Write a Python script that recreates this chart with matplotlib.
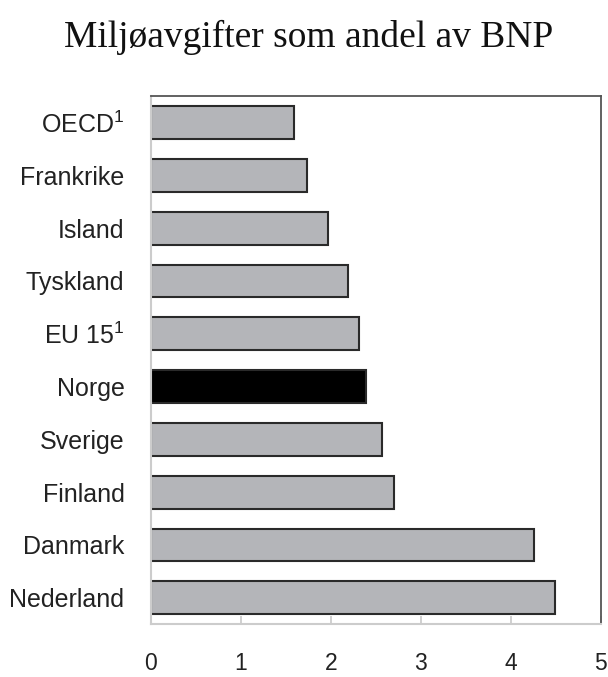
import numpy as np
from matplotlib import pyplot as plt

# data (top to bottom)
countries = [r'OECD$^{\mathregular{1}}$', 'Frankrike', 'Island', 'Tyskland',
             r'EU 15$^{\mathregular{1}}$', 'Norge', 'Sverige', 'Finland',
             'Danmark', 'Nederland']
values = [1.59, 1.74, 1.97, 2.19, 2.31, 2.39, 2.57, 2.70, 4.26, 4.49]
xticks = [0, 1, 2, 3, 4, 5]

plt.rcParams['font.family'] = ['Liberation Sans', 'DejaVu Sans']
plt.rcParams['mathtext.fontset'] = 'custom'
plt.rcParams['mathtext.rm'] = 'Liberation Sans'

fig = plt.figure(figsize=(6.08, 6.77), dpi=100)
ax = fig.add_axes([0.248, 0.078, 0.74, 0.78])

colors = ['#000000' if c == 'Norge' else '#b4b5b9' for c in countries]
y = np.arange(len(countries))
ax.barh(y, values, height=0.62, color=colors, edgecolor='#2a2a2a', linewidth=1.5)

ax.set_xlim(0, 5)
ax.set_ylim(len(countries) - 0.5, -0.5)
ax.set_yticks(y)
ax.set_yticklabels(countries, fontsize=18, color='#222222')
ax.set_xticks(xticks)
ax.set_xticklabels([str(t) for t in xticks], fontsize=16.5, color='#222222')

ax.tick_params(axis='y', length=0, pad=19)
ax.tick_params(axis='x', direction='in', length=6, color='#c8c8c8', width=1.2, pad=20)

for s in ['left', 'bottom']:
    ax.spines[s].set_color('#cccccc')
    ax.spines[s].set_linewidth(1.5)
for s in ['top', 'right']:
    ax.spines[s].set_color('#555555')
    ax.spines[s].set_linewidth(1.3)

fig.text(0.508, 0.945, 'Miljøavgifter som andel av BNP', family='Liberation Serif',
         fontsize=27, ha='center', va='center', color='#111111')

plt.savefig('out.png', dpi=100)
